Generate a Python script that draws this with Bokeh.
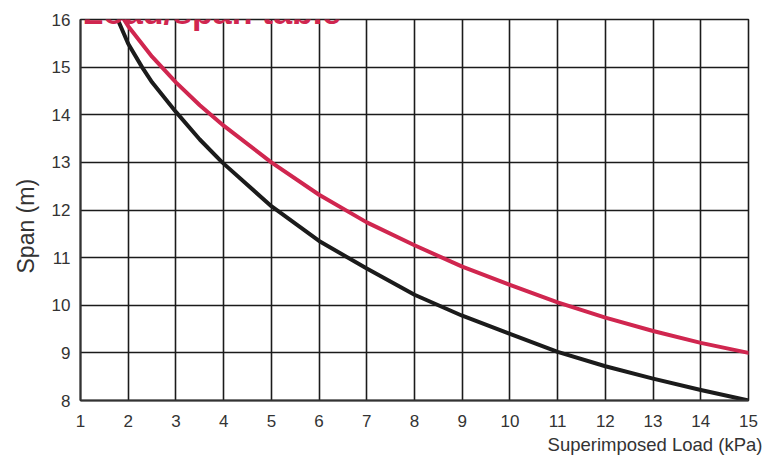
import math
from bokeh.plotting import figure
from bokeh.models import Label, FixedTicker, Range1d, Title
from bokeh.embed import file_html
from bokeh.resources import INLINE

# ---- data ----
x_ticks = list(range(1, 16))
y_ticks = list(range(8, 17))

red_load = [1.91, 2, 2.5, 3, 3.5, 4, 5, 6, 7, 8, 9, 10, 11, 12, 13, 14, 15]
red_span = [16.0, 15.86, 15.22, 14.68, 14.2, 13.77, 13.0, 12.32, 11.74, 11.26, 10.81, 10.43, 10.06, 9.74, 9.46, 9.21, 9.0]

black_load = [1.78, 2, 2.29, 2.5, 3, 3.5, 3.97, 5, 6, 7, 8, 9, 10, 11, 12, 13, 14, 15]
black_span = [16.0, 15.49, 15.0, 14.68, 14.06, 13.48, 13.0, 12.08, 11.35, 10.77, 10.22, 9.78, 9.4, 9.02, 8.72, 8.46, 8.22, 8.0]

title_text = "Load/span table"
x_title = "Superimposed Load (kPa)"
y_title = "Span (m)"

RED = "#d0264f"
INK = "#1b1b1b"
TXT = "#333333"
FONT = "Liberation Sans"

p = figure(width=768, height=477, output_backend="svg", toolbar_location=None,
           x_range=Range1d(1, 15), y_range=Range1d(8, 16),
           min_border_left=80, min_border_right=20, min_border_top=39, min_border_bottom=56)
p.margin = (-20, 0, 0, 0)

p.background_fill_color = "white"
p.border_fill_color = "white"
p.outline_line_color = INK
p.outline_line_width = 1.6

for ax in (p.xaxis[0], p.yaxis[0]):
    ax.major_tick_in = 0
    ax.major_tick_out = 0
    ax.minor_tick_in = 0
    ax.minor_tick_out = 0
    ax.axis_line_color = "#333333"
    ax.axis_line_width = 2
    ax.major_label_text_font = FONT
    ax.major_label_text_font_size = "17px"
    ax.major_label_text_color = TXT

p.xaxis.ticker = FixedTicker(ticks=x_ticks)
p.yaxis.ticker = FixedTicker(ticks=y_ticks)
p.xaxis.major_label_standoff = 14
p.yaxis.major_label_standoff = 10

p.xgrid.ticker = FixedTicker(ticks=x_ticks)
p.ygrid.ticker = FixedTicker(ticks=y_ticks)
p.grid.grid_line_color = INK
p.grid.grid_line_width = 1.6
p.grid.grid_line_alpha = 1.0

p.line(red_load, red_span, line_color=RED, line_width=4, line_join="round", line_cap="round")
p.line(black_load, black_span, line_color=INK, line_width=4, line_join="round", line_cap="round")

p.add_layout(Title(text=x_title, align="right", offset=-14, standoff=5,
                   text_font=FONT, text_font_size="18.5px", text_font_style="normal",
                   text_color=TXT), "below")
p.add_layout(Title(text=y_title, align="left", offset=127, standoff=19,
                   text_font=FONT, text_font_size="23px", text_font_style="normal",
                   text_color=TXT), "left")

p.add_layout(Label(x=1.04, y=16.157, text=title_text, text_font=FONT, text_font_style="bold",
                   text_font_size="34px", text_color=RED, text_baseline="alphabetic",
                   text_align="left"))

open("out.html", "w").write(file_html(p, INLINE))
